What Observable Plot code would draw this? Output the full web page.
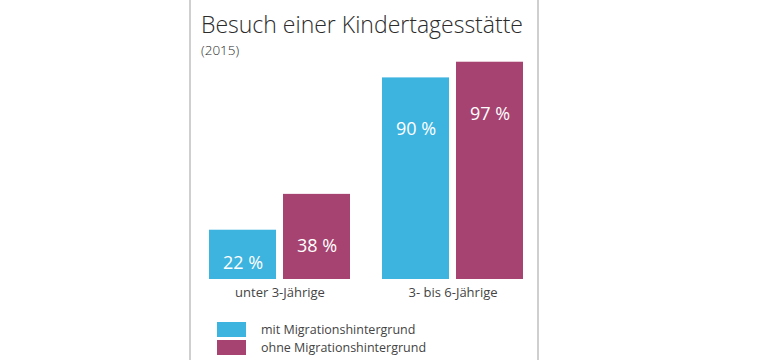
<!DOCTYPE html>
<html>
<head>
<meta charset="utf-8">
<script src="https://cdn.jsdelivr.net/npm/d3@7"></script>
<script src="https://cdn.jsdelivr.net/npm/@observablehq/plot@0.6"></script>
<style>
  html, body { margin: 0; padding: 0; background: #fff; }
  #wrap { position: relative; width: 760px; height: 360px; overflow: hidden; font-family: "Open Sans", sans-serif; color: #333; }
  .border { position: absolute; top: 0; bottom: 0; width: 2px; background: #cfcfcf; }
  #header { position: absolute; left: 201px; top: 0; height: 55px; }
  #title { position: absolute; top: 8px; left: 0; white-space: nowrap; font-size: 23px; font-weight: 300; color: #2b2b2b; }
  #subtitle { position: absolute; top: 41px; left: 0; white-space: nowrap; font-size: 13.5px; font-weight: 300; color: #2b2b2b; }
  #chart { position: absolute; left: 0; top: 55px; }
  #legend { position: absolute; left: 217px; top: 320px; font-size: 12.5px; font-weight: 400; color: #444; }
  .item { display: flex; align-items: center; height: 18px; }
  .sw { width: 29px; height: 15px; margin-right: 15px; }
</style>
</head>
<body>
<div id="wrap">
  <div class="border" style="left:189px"></div>
  <div class="border" style="left:537px"></div>
  <div id="header">
    <div id="title"></div>
    <div id="subtitle"></div>
  </div>
  <div id="chart"></div>
  <div id="legend"></div>
</div>
<script>
const title = "Besuch einer Kindertagesstätte";
const subtitle = "(2015)";
const groups = ["unter 3-Jährige", "3- bis 6-Jährige"];
const series = ["mit Migrationshintergrund", "ohne Migrationshintergrund"];
const mitValues = [22, 90];
const ohneValues = [38, 97];
const colors = ["#3db3df", "#a64370"];

const data = [];
groups.forEach((g, i) => {
  data.push({group: g, series: series[0], value: mitValues[i]});
  data.push({group: g, series: series[1], value: ohneValues[i]});
});

document.getElementById("title").textContent = title;
document.getElementById("subtitle").textContent = subtitle;

const chart = Plot.plot({
  width: 760,
  height: 254,
  marginTop: 0,
  marginBottom: 30,
  marginLeft: 208,
  marginRight: 236,
  style: {fontFamily: "Open Sans, sans-serif", fontSize: "13px", color: "#444", background: "transparent"},
  fx: {domain: groups, paddingInner: 0.176, paddingOuter: 0, label: null, axis: "bottom", tickSize: 0, tickPadding: 8},
  x: {domain: series, paddingInner: 0.093, paddingOuter: 0, axis: null},
  y: {domain: [0, 100], axis: null},
  color: {domain: series, range: colors},
  marks: [
    Plot.barY(data, {fx: "group", x: "series", y: "value", fill: "series"}),
    Plot.text(data, {
      fx: "group", x: "series",
      y: d => Math.max(d.value - 23, d.value / 3),
      text: d => d.value + " %",
      fill: "white", fontSize: 18, fontWeight: 400
    })
  ]
});
document.getElementById("chart").appendChild(chart);

const legend = document.getElementById("legend");
series.forEach((s, i) => {
  const row = document.createElement("div");
  row.className = "item";
  const sw = document.createElement("div");
  sw.className = "sw";
  sw.style.background = colors[i];
  const lab = document.createElement("span");
  lab.textContent = s;
  row.appendChild(sw);
  row.appendChild(lab);
  legend.appendChild(row);
});
</script>
</body>
</html>
